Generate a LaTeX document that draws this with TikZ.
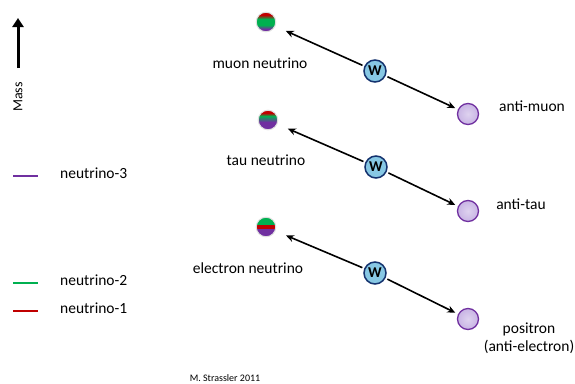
\documentclass[tikz,border=0pt]{standalone}
\usepackage{fontspec}
\setmainfont{Carlito}
\usetikzlibrary{arrows.meta}
\definecolor{nupurple}{RGB}{112,48,160}
\definecolor{nugreen}{RGB}{0,176,80}
\definecolor{nured}{RGB}{192,0,0}
\definecolor{wfill}{RGB}{135,200,228}
\definecolor{wborder}{RGB}{20,50,110}
\definecolor{antifill}{RGB}{200,180,228}
\tikzset{
  lbl/.style={font=\fontsize{15.5}{18}\selectfont, inner sep=0pt},
  wnode/.style={circle, draw=wborder, line width=1.5pt, fill=wfill, minimum size=22pt, inner sep=0pt, font=\bfseries\fontsize{15}{16}\selectfont},
  anti/.style={circle, draw=nupurple, line width=1.3pt, inner color=antifill!60!white, outer color=antifill, minimum size=21pt, inner sep=0pt},
  nuball/.style={circle, minimum size=19pt, inner sep=0pt},
  conn/.style={-{Stealth[length=8pt,width=7pt]}, line width=1.6pt, shorten >=3pt, shorten <=2pt},
  legline/.style={line width=1.6pt}
}
\begin{document}
\begin{tikzpicture}[x=1pt,y=-1pt]
\useasboundingbox (0,0) rectangle (575,383);
% Mass arrow
\coordinate (mb) at (18,68);
\coordinate (mt) at (18,18);
\draw[-{Triangle[length=9pt,width=11pt]}, line width=3pt] (mb) -- (mt);
\node[lbl, rotate=90, font=\fontsize{14}{16}\selectfont] (mass) at (18,97) {Mass};
% legend
\draw[legline, nupurple] (13,176) -- (38,176) coordinate (l3);
\node[lbl, anchor=west] (n3) at (60,173) {neutrino-3};
\draw[legline, nugreen] (13,283) -- (38,283) coordinate (l2);
\node[lbl, anchor=west] (n2) at (60,280) {neutrino-2};
\draw[legline, nured] (13,311) -- (38,311) coordinate (l1);
\node[lbl, anchor=west] (n1) at (60,308) {neutrino-1};
% muon: red, green, purple
\node[nuball] (numu) at (266,22) {};
\begin{scope}
\clip (266,22) circle (9.5);
\fill[nured] (255,11) rectangle (277,15);
\shade[top color=nured, bottom color=nugreen] (255,15) rectangle (277,19);
\fill[nugreen] (255,19) rectangle (277,25);
\shade[top color=nugreen, bottom color=nupurple] (255,25) rectangle (277,29);
\fill[nupurple] (255,29) rectangle (277,33);
\end{scope}
\draw[gray!25, line width=1pt] (266,22) circle (9.8);
% tau
\node[nuball] (nutau) at (268,120) {};
\begin{scope}
\clip (268,120) circle (9.5);
\fill[nured] (257,109) rectangle (279,113);
\shade[top color=nured, bottom color=nugreen] (257,113) rectangle (279,116);
\shade[top color=nugreen, bottom color=nupurple] (257,116) rectangle (279,122);
\fill[nupurple] (257,122) rectangle (279,131);
\end{scope}
\draw[gray!25, line width=1pt] (268,120) circle (9.8);
% electron
\node[nuball] (nue) at (266,227) {};
\begin{scope}
\clip (266,227) circle (9.5);
\fill[nugreen] (255,216) rectangle (277,224.5);
\fill[nured] (255,224.5) rectangle (277,228.5);
\fill[nupurple] (255,228.5) rectangle (277,238);
\end{scope}
\draw[gray!25, line width=1pt] (266,227) circle (9.8);
% labels
\node[lbl] (lmu) at (260,63) {muon neutrino};
\node[lbl] (ltau) at (266,160) {tau neutrino};
\node[lbl] (le) at (248,268) {electron neutrino};
% W nodes
\node[wnode] (w1) at (375,71) {W};
\node[wnode] (w2) at (376,167) {W};
\node[wnode] (w3) at (375,273) {W};
% anti
\node[anti] (a1) at (468,114) {};
\node[anti] (a2) at (468,211) {};
\node[anti] (a3) at (468,319) {};
\node[lbl] (la1) at (532,106) {anti-muon};
\node[lbl] (la2) at (521,204) {anti-tau};
\node[lbl, align=center] (la3) at (529,338) {positron\\(anti-electron)};
% connectors
\draw[conn, shorten >=12pt] (w1) -- (numu);
\draw[conn, shorten >=12pt] (w2) -- (nutau);
\draw[conn, shorten >=12pt] (w3) -- (nue);
\draw[conn] (w1) -- (a1);
\draw[conn] (w2) -- (a2);
\draw[conn] (w3) -- (a3);
\node[lbl, font=\fontsize{10}{11}\selectfont] (credit) at (225,378) {M. Strassler 2011};
\end{tikzpicture}
\end{document}
